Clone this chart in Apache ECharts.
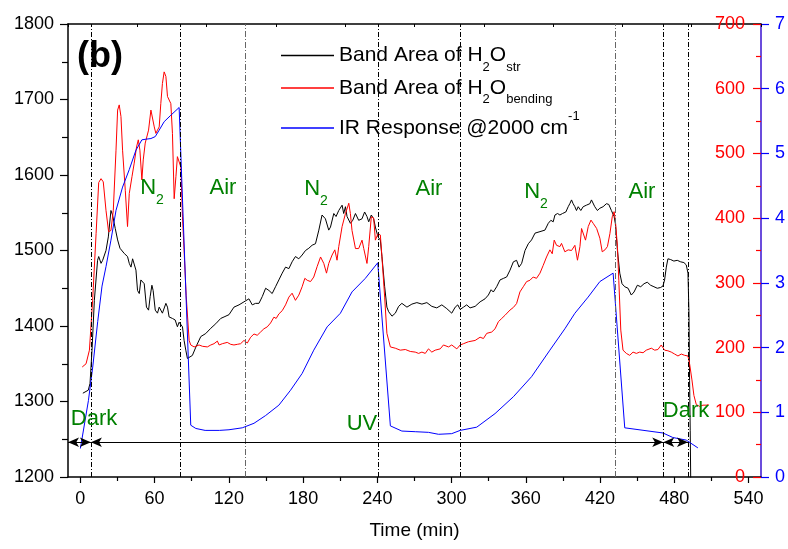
<!DOCTYPE html>
<html><head><meta charset="utf-8">
<script src="https://cdn.jsdelivr.net/npm/echarts@6/dist/echarts.min.js"></script>
<style>html,body{margin:0;padding:0;background:#fff}#c{width:788px;height:549px}</style>
</head><body><div id="c"></div>
<script>
const FONT = '"Liberation Sans", Arial, sans-serif';
const xTickValues = [0, 60, 120, 180, 240, 300, 360, 420, 480, 540];
const xMinorTickValues = [30, 90, 150, 210, 270, 330, 390, 450, 510];
const phaseLines = [8.5, 81, 133, 241, 307, 432, 471, 491];
const phaseLineGray = [false, false, true, false, false, true, false, false];
const arrowSegments = [[-10, 8.5], [8.5, 471], [471, 491]];
const arrowLevel = 1246;

// Band Area of H2O stretching (left axis)
const blackStr = [[2,1311],[6.4,1315],[7.8,1324],[9.4,1368],[11.3,1434],[13.9,1487],[14.8,1492],[16.7,1483],[18,1487],[20.7,1500],[22.6,1518],[24.7,1553],[26,1547],[28.2,1529],[30.1,1514],[32,1503],[33.6,1505],[35.5,1496],[36.8,1498],[38.1,1492],[39.5,1483],[40.9,1478],[42.2,1489],[43.5,1487],[44.9,1474],[46.2,1447],[47.6,1443],[48.9,1461],[50.2,1463],[51.6,1456],[53.4,1425],[55.1,1421],[56.4,1439],[57.8,1454],[58.8,1447],[60.5,1421],[62.3,1417],[63.7,1425],[65,1425],[66.3,1417],[67.7,1417],[69.1,1430],[70.4,1425],[71.7,1412],[74.4,1410],[76.6,1408],[78.4,1399],[79.8,1405],[81.2,1405],[82.5,1399],[83.8,1381],[85.2,1368],[86.5,1357],[87.9,1355],[90.5,1361],[93.3,1372],[97.3,1386],[101.3,1390],[105.4,1397],[109.4,1403],[113.4,1410],[116.1,1412],[120.1,1415],[124.1,1425],[128.2,1428],[132.2,1432],[136.2,1436],[138.9,1428],[141.6,1430],[144.3,1430],[147,1439],[149.7,1450],[152.4,1447],[155,1443],[157.7,1452],[160.4,1461],[163.1,1470],[165.8,1478],[168.5,1476],[171.1,1485],[173.8,1492],[176.5,1489],[179.2,1494],[181.9,1500],[184.6,1503],[187.3,1507],[190,1509],[192.7,1527],[195.3,1547],[198,1542],[200.7,1527],[202.1,1531],[204.8,1549],[206.6,1545],[208.8,1553],[211.5,1560],[212.8,1549],[214.2,1558],[215.5,1545],[218.2,1536],[220.1,1540],[222.3,1549],[224.9,1540],[227.6,1542],[229.7,1551],[231.6,1545],[233,1538],[235.1,1547],[237,1542],[238.4,1531],[240.5,1518],[242.4,1514],[243.7,1492],[245.9,1452],[247.7,1425],[249.1,1419],[251.8,1413],[254.5,1417],[257.2,1426],[259.8,1430],[263.9,1425],[267.9,1429],[271.9,1431],[276,1429],[280,1431],[284,1426],[288,1424],[292.1,1428],[296.1,1423],[300.1,1417],[302.9,1425],[305,1428],[306.9,1422],[309.6,1425],[312.2,1428],[314.9,1424],[319,1426],[323,1432],[327,1436],[329.7,1441],[331.9,1448],[333.7,1445],[336.4,1452],[339.1,1461],[341.8,1463],[344.5,1465],[347.2,1474],[349.9,1485],[352.5,1487],[354.5,1478],[356.6,1483],[359.3,1500],[362,1509],[364.6,1514],[367.4,1523],[371.4,1525],[375.4,1527],[378.1,1536],[380.2,1540],[382.1,1538],[383.5,1547],[385.6,1549],[387.5,1547],[389.6,1549],[392.3,1551],[394.2,1558],[395.5,1562],[396.9,1567],[398.2,1562],[399.6,1558],[400.9,1553],[402.3,1558],[404.4,1553],[406.3,1558],[408.9,1560],[411.7,1562],[413,1567],[414.4,1567],[415.7,1558],[417.8,1553],[419.8,1556],[422.4,1558],[425.1,1562],[427,1561],[429.1,1553],[431.3,1545],[432.3,1536],[434,1500],[435.9,1470],[437.7,1456],[439.9,1452],[442.6,1450],[445.2,1441],[447.4,1445],[450.1,1454],[452.8,1452],[455.5,1456],[458.1,1458],[460.8,1454],[463.5,1452],[466.2,1450],[468.9,1451],[470.8,1453],[472.1,1461],[473.5,1478],[474.8,1489],[477,1488],[479.6,1486],[482.3,1487],[485.1,1485],[487.7,1484],[489.6,1481],[491,1470],[491.8,1417],[492.3,1328],[492.8,1262],[493.5,1150]];

// Band Area of H2O bending (red right axis 0-700)
const redBend = [[1.5,170],[4.6,175],[7.3,196],[9.9,273],[12.7,376],[14.8,455],[16.7,461],[18.5,456],[20.7,412],[22.8,379],[24.7,381],[26.6,412],[28.8,505],[30.1,567],[31.4,575],[32.8,557],[34.1,505],[36.3,443],[38.1,387],[39.5,438],[41.7,464],[43.5,485],[45.4,510],[46.8,521],[48.1,505],[49.7,459],[50.8,490],[52.4,516],[53.5,513],[55.1,536],[57,567],[58.3,564],[59.7,541],[61,531],[62.3,536],[63.7,541],[65,577],[66.3,608],[67.7,626],[69.1,619],[70.4,588],[71.7,590],[73.1,577],[74.4,531],[75.8,430],[77.2,464],[78.4,495],[79.8,492],[81.2,479],[82.5,402],[83.8,351],[85.5,280],[87.9,211],[89.2,204],[91.9,201],[95.9,204],[98.6,202],[102.6,201],[105.4,204],[108,206],[110.7,210],[112.1,204],[114.7,206],[118.7,208],[121.5,205],[124.1,204],[126.8,205],[129.5,206],[132.2,211],[134.9,207],[137.6,216],[140.3,221],[142.9,219],[145.6,224],[148.3,229],[151,232],[153.7,238],[156.4,247],[158.2,245],[160.4,252],[163.1,257],[165.8,266],[168.5,278],[171.1,284],[173.8,273],[176.5,281],[179.2,294],[181.4,307],[183.3,304],[186,302],[188.6,309],[191.3,325],[194.1,340],[196.7,330],[198.9,315],[200.7,330],[203.4,343],[205.6,351],[207.4,335],[208.8,356],[211.5,387],[214.2,407],[216.9,423],[218.2,407],[219.5,381],[222.3,353],[224.9,353],[227.6,366],[229,353],[231.6,330],[233,356],[235.1,402],[237,400],[238.4,366],[240.5,376],[242.4,374],[243.7,340],[245.9,278],[247.7,222],[250.5,201],[254.5,199],[258.5,196],[262.6,197],[266.6,194],[270.6,193],[273.3,191],[276,193],[278.7,191],[281.3,198],[284,193],[286.7,196],[290.8,198],[293.4,204],[297.5,201],[300.1,204],[304.2,198],[306.9,204],[309.6,206],[313.6,209],[319,211],[323,216],[325.7,214],[328.4,222],[332.4,224],[335.1,229],[337.8,240],[340.5,245],[343.2,250],[347.2,258],[349.9,262],[352.5,268],[355.2,286],[357.9,294],[360.6,302],[363.3,304],[365.9,309],[368.6,307],[371.4,315],[374,327],[376.7,340],[379.4,351],[381.3,345],[382.9,366],[384.8,358],[387.5,356],[388.8,361],[391.5,348],[394.2,351],[396.9,350],[399.6,358],[401.7,335],[403.7,356],[405,384],[406.3,387],[408.2,366],[410.4,387],[412.6,397],[414.4,392],[417.2,384],[419.8,369],[421.7,348],[423.9,351],[425.9,356],[427.9,376],[429.8,402],[431.3,410],[432.3,397],[434,356],[435.1,304],[436.7,227],[438.5,196],[441.2,191],[443.9,188],[446.6,193],[449.3,191],[452,193],[454.7,192],[457.3,196],[461.4,199],[464.1,196],[466.7,197],[469.4,204],[470.8,201],[472.1,196],[474.8,195],[477.5,193],[480.2,190],[482.9,187],[485.6,190],[488.3,188],[491,187],[492.3,175],[494.2,150],[495.8,126],[497.7,112],[500.5,109],[503.1,111],[505.8,111],[507.6,112]];

// IR response @2000 cm-1 (blue right axis 0-7)
const blueIR = [[0,0.44],[6.5,1.18],[10,1.7],[14,2.4],[17.5,2.95],[20.7,3.25],[24.7,3.66],[28.8,4.12],[34.1,4.48],[39.5,4.75],[44.9,5.05],[49.7,5.21],[53,5.22],[57,5.23],[60.5,5.26],[63.7,5.36],[67.7,5.49],[73.1,5.59],[79.8,5.71],[89.2,0.8],[93.3,0.75],[100.8,0.72],[112.3,0.72],[120.1,0.73],[130.8,0.76],[140.3,0.83],[149.7,0.95],[160.4,1.11],[169.8,1.34],[179.2,1.6],[188.6,1.96],[199.4,2.32],[210.1,2.53],[219.5,2.86],[230.3,3.07],[240.3,3.31],[250.5,0.79],[259.8,0.71],[270.6,0.7],[281.3,0.69],[289.4,0.66],[300.1,0.67],[306.9,0.72],[320.3,0.77],[335.1,0.98],[349.9,1.24],[364.6,1.55],[379.4,1.96],[391.5,2.29],[399.6,2.53],[410.3,2.78],[419.8,3.02],[430.5,3.15],[439.9,0.76],[470.8,0.68],[478.8,0.61],[489.6,0.57],[499,0.45]];

const legendNames = ['str', 'bend', 'ir'];
const legendLabels = {
  str: '{m|Band Area of H}{sb|2}{m|O}{sb|str}',
  bend: '{m|Band Area of H}{sb|2}{m|O}{sb|bending}',
  ir: '{m|IR Response @2000 cm}{sp|-1}'
};

const chart = echarts.init(document.getElementById('c'), null, {renderer: 'canvas'});
const greenRich = {
  n: {fontSize: 22, lineHeight: 38, verticalAlign: 'middle', fill: '#008000', fontFamily: FONT},
  s: {fontSize: 14, lineHeight: 14, verticalAlign: 'bottom', fill: '#008000', fontFamily: FONT}
};
function gText(text, x, y) {
  return {type: 'text', x: x, y: y, z: 100, style: {text: text, rich: greenRich, font: '22px ' + FONT, fill: '#008000', align: 'center', verticalAlign: 'middle'}};
}
const plain = function (v) { return String(v); };
const option = {
  animation: false,
  backgroundColor: '#fff',
  grid: {left: 68, right: 25, top: 24, bottom: 72, containLabel: false},
  legend: {
    orient: 'vertical', left: 276, top: 40, itemGap: 4, itemWidth: 53, itemHeight: 1.5,
    icon: 'rect', selectedMode: false, data: legendNames,
    formatter: function (n) { return legendLabels[n]; },
    textStyle: {
      fontFamily: FONT, fontSize: 21, color: '#000',
      rich: {
        m: {fontSize: 21, lineHeight: 36, verticalAlign: 'middle', fontFamily: FONT, color: '#000'},
        sb: {fontSize: 13, lineHeight: 13, verticalAlign: 'bottom', fontFamily: FONT, color: '#000'},
        sp: {fontSize: 13, lineHeight: 13, verticalAlign: 'top', fontFamily: FONT, color: '#000'}
      }
    }
  },
  xAxis: [
    {type: 'value', position: 'bottom', min: -10, max: 550,
     name: 'Time (min)', nameLocation: 'middle', nameGap: 44,
     nameTextStyle: {fontFamily: FONT, fontSize: 19, color: '#000'},
     axisLine: {show: true, onZero: false, lineStyle: {color: '#000', width: 1.5}},
     axisTick: {show: true, inside: false, length: 6, customValues: xTickValues, lineStyle: {color: '#000', width: 1.2}},
     axisLabel: {show: true, customValues: xTickValues, formatter: plain, fontFamily: FONT, fontSize: 18, color: '#000', margin: 13},
     splitLine: {show: false}},
    {type: 'value', position: 'bottom', min: -10, max: 550,
     axisLine: {show: false, onZero: false},
     axisTick: {show: true, inside: false, length: 4, customValues: xMinorTickValues, lineStyle: {color: '#000', width: 1.2}},
     axisLabel: {show: false}, splitLine: {show: false}},
    {type: 'value', position: 'top', min: 0, max: 10, interval: 1,
     axisLine: {show: true, onZero: false, lineStyle: {color: '#000', width: 1.5}},
     axisTick: {show: true, inside: true, length: 3, lineStyle: {color: '#000', width: 1}},
     axisLabel: {show: false}, splitLine: {show: false}}
  ],
  yAxis: [
    {type: 'value', position: 'left', min: 1200, max: 1800, interval: 100,
     axisLine: {show: true, onZero: false, lineStyle: {color: '#000', width: 1.5}},
     axisTick: {show: true, inside: false, length: 8, lineStyle: {color: '#000', width: 1.2}},
     minorTick: {show: true, splitNumber: 2, length: 6, lineStyle: {color: '#000', width: 1.2}},
     axisLabel: {formatter: plain, fontFamily: FONT, fontSize: 18, color: '#000', margin: 14},
     splitLine: {show: false}},
    {type: 'value', position: 'right', min: 0, max: 700, interval: 100,
     axisLine: {show: false, onZero: false},
     axisTick: {show: true, inside: true, length: 8, lineStyle: {color: '#ff0000', width: 1.2}},
     minorTick: {show: true, splitNumber: 2, length: 5, lineStyle: {color: '#ff0000', width: 1.2}},
     axisLabel: {inside: true, formatter: plain, fontFamily: FONT, fontSize: 18, color: '#ff0000', margin: 16},
     splitLine: {show: false}},
    {type: 'value', position: 'right', min: 0, max: 7, interval: 1,
     axisLine: {show: true, onZero: false, lineStyle: {color: '#3a10d0', width: 1.5}},
     axisTick: {show: true, inside: false, length: 8, lineStyle: {color: '#0000ff', width: 1.2}},
     axisLabel: {formatter: plain, fontFamily: FONT, fontSize: 18, color: '#0000ff', margin: 14},
     splitLine: {show: false}}
  ],
  series: [
    {name: 'aux-lines', type: 'line', xAxisIndex: 0, yAxisIndex: 0, data: [], silent: true,
     markLine: {silent: true, symbol: ['none', 'none'], label: {show: false}, animation: false,
       data: phaseLines.map(function (v, i) {
         return {xAxis: v, lineStyle: {color: phaseLineGray[i] ? '#666' : '#000', width: 1, type: phaseLineGray[i] ? [6, 2, 1, 2] : [5, 2, 1, 2]}};
       })}},
    {name: 'aux-arrows', type: 'line', xAxisIndex: 0, yAxisIndex: 0, data: [], silent: true,
     markLine: {silent: true, symbol: ['arrow', 'arrow'], symbolSize: [7, 11], label: {show: false}, animation: false,
       lineStyle: {color: '#000', width: 1, type: 'solid'},
       data: arrowSegments.map(function (s) { return [{coord: [s[0], arrowLevel]}, {coord: [s[1], arrowLevel]}]; })}},
    {name: 'str', type: 'line', xAxisIndex: 0, yAxisIndex: 0, data: blackStr, symbol: 'none', clip: true,
     itemStyle: {color: '#000'}, lineStyle: {color: '#000', width: 1}},
    {name: 'bend', type: 'line', xAxisIndex: 0, yAxisIndex: 1, data: redBend, symbol: 'none', clip: true,
     itemStyle: {color: '#ff0000'}, lineStyle: {color: '#ff0000', width: 1}},
    {name: 'ir', type: 'line', xAxisIndex: 0, yAxisIndex: 2, data: blueIR, symbol: 'none', clip: true,
     itemStyle: {color: '#0000ff'}, lineStyle: {color: '#0000ff', width: 1}}
  ],
  graphic: [
    {type: 'text', x: 100, y: 57, z: 100, style: {text: '(b)', font: 'bold 36px ' + FONT, fill: '#000', align: 'center', verticalAlign: 'middle'}},
    gText('{n|N}{s|2}', 152, 188),
    gText('{n|Air}', 223, 188),
    gText('{n|N}{s|2}', 316, 189),
    gText('{n|Air}', 429, 189),
    gText('{n|N}{s|2}', 536, 192),
    gText('{n|Air}', 642, 192),
    gText('{n|UV}', 362, 424),
    gText('{n|Dark}', 94, 419),
    gText('{n|Dark}', 686, 411)
  ]
};
chart.setOption(option);
</script>
</body></html>
